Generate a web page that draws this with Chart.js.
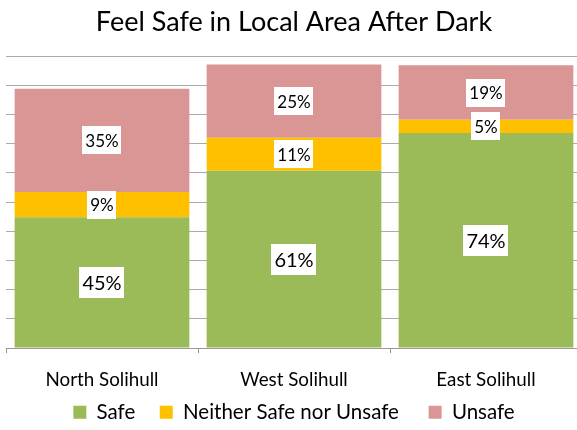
<!DOCTYPE html>
<html><head><meta charset="utf-8">
<script src="https://cdn.jsdelivr.net/npm/chart.js@4"></script>
<style>html,body{margin:0;padding:0;overflow:hidden;background:#fff;width:577px;height:430px}#wrap{width:590px;height:430px;position:relative}</style>
</head><body><div id="wrap"><canvas id="c" width="590" height="430"></canvas></div>
<script>
const categories = ["North Solihull", "West Solihull", "East Solihull"];
const safe = [44.8, 60.7, 73.6];
const neither = [8.6, 11.3, 4.6];
const unsafe = [35.4, 25.1, 18.6];
const seriesNames = ["Safe", "Neither Safe nor Unsafe", "Unsafe"];
const FONT = "Lato, 'Open Sans', sans-serif";

const labelPlugin = {
  id: 'segLabels',
  afterDatasetsDraw(chart) {
    const ctx = chart.ctx;
    chart.data.datasets.forEach((ds, i) => {
      const meta = chart.getDatasetMeta(i);
      meta.data.forEach((el, j) => {
        const v = ds.data[j];
        const size = i === 0 ? 20 : 17;
        ctx.save();
        ctx.font = size + "px " + FONT;
        const txt = Math.round(v) + "%";
        const w = ctx.measureText(txt).width;
        const cy = (el.y + el.base) / 2;
        const h = size + 11;
        ctx.fillStyle = "#fff";
        ctx.fillRect(Math.round(el.x - w / 2 - 3), Math.round(cy - h / 2), Math.round(w + 6), h);
        ctx.fillStyle = "#000";
        ctx.textAlign = "center";
        ctx.textBaseline = "middle";
        ctx.fillText(txt, el.x, cy + 1);
        ctx.restore();
      });
    });
  }
};

const legendGaps = ["    ", "     ", ""];

new Chart(document.getElementById('c'), {
  type: 'bar',
  data: {
    labels: categories,
    datasets: [
      { label: seriesNames[0], data: safe, backgroundColor: '#9BBB59' },
      { label: seriesNames[1], data: neither, backgroundColor: '#FFC000' },
      { label: seriesNames[2], data: unsafe, backgroundColor: '#D99694' }
    ]
  },
  options: {
    responsive: false,
    animation: false,
    layout: { padding: { left: 6, right: 8, top: 0, bottom: -2.5 } },
    datasets: { bar: { categoryPercentage: 1, barPercentage: 0.91 } },
    plugins: {
      title: { display: true, text: 'Feel Safe in Local Area After Dark', color: '#000',
        font: { family: FONT, size: 27, weight: 'normal', lineHeight: 1.2 }, padding: { top: 6, bottom: 17.6 } },
      legend: { position: 'bottom', labels: { color: '#000', boxWidth: 13, boxHeight: 13,
        font: { family: FONT, size: 20.5 }, padding: 3.5,
        generateLabels(chart) {
          const items = Chart.defaults.plugins.legend.labels.generateLabels(chart);
          items.forEach((it, k) => { it.text = it.text + legendGaps[k]; });
          return items;
        } } },
      tooltip: { enabled: false }
    },
    scales: {
      x: { stacked: true,
        afterFit(scale) { scale.height = 50.5; },
        grid: { offset: true, drawOnChartArea: false, drawTicks: true, tickLength: 5, color: '#999' },
        border: { color: '#999' },
        ticks: { color: '#000', font: { family: FONT, size: 18.8, lineHeight: 1.2 }, padding: 15.5 } },
      y: { stacked: true, min: 0, max: 100,
        ticks: { display: false, stepSize: 10 },
        grid: { color: '#aaa', drawTicks: false },
        border: { display: false } }
    }
  },
  plugins: [labelPlugin]
});
</script></body></html>
